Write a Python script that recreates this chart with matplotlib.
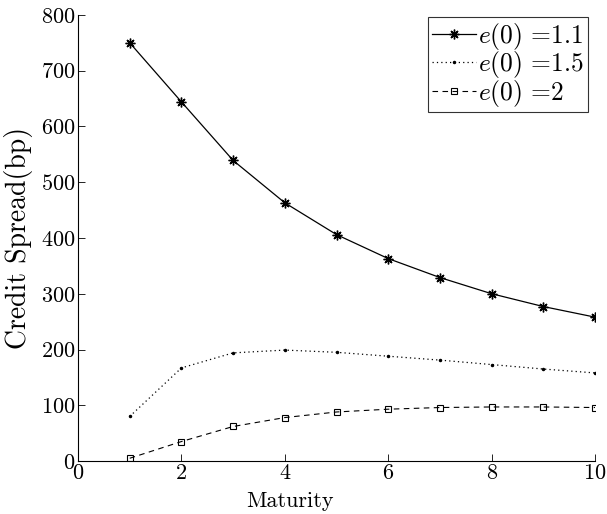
import matplotlib
matplotlib.use("Agg")
import matplotlib.pyplot as plt

# ── Data ────────────────────────────────────────────────────────────
maturity = [1, 2, 3, 4, 5, 6, 7, 8, 9, 10]
spread_e11 = [750, 644, 539, 463, 406, 363, 329, 300, 277, 258]
spread_e15 = [80, 167, 194, 199, 195, 188, 181, 173, 165, 158]
spread_e2 = [5, 35, 62, 78, 88, 93, 96, 97, 97, 96]

# ── Style (Computer Modern look) ────────────────────────────────────
plt.rcParams["font.family"] = "serif"
plt.rcParams["font.serif"] = ["cmr10"]
plt.rcParams["mathtext.fontset"] = "cm"
plt.rcParams["axes.formatter.use_mathtext"] = True
plt.rcParams["font.size"] = 16

fig = plt.figure(figsize=(6.07, 5.14), dpi=100)
ax = fig.add_axes([0.1285, 0.103, 0.852, 0.868])

ax.plot(maturity, spread_e11, "k-", marker=(8, 2, 0), ms=7, mew=1.0, lw=0.9,
        label=r"$e(0)$ =1.1")
ax.plot(maturity, spread_e15, "k", ls=(0, (1, 2.5)), marker=".", ms=3,
        lw=0.9, label=r"$e(0)$ =1.5")
ax.plot(maturity, spread_e2, "k", ls=(0, (5, 4)), marker="s", ms=5,
        mfc="none", mew=0.8, lw=0.8, label=r"$e(0)$ =2")

# ── Axes formatting ─────────────────────────────────────────────────
ax.set_xlim(0, 10)
ax.set_ylim(0, 800)
ax.set_xticks([0, 2, 4, 6, 8, 10])
ax.set_yticks(range(0, 801, 100))
ax.spines["top"].set_visible(False)
ax.spines["right"].set_visible(False)
ax.tick_params(direction="in", length=5, width=0.6, pad=2, labelsize=16)
ax.set_xlabel("Maturity", fontsize=16)
ax.xaxis.set_label_coords(0.41, -0.068)
ax.set_ylabel("Credit Spread(bp)", fontsize=20)
ax.yaxis.set_label_coords(-0.087, 0.5)

leg = ax.legend(loc="upper right", bbox_to_anchor=(0.9865, 0.9955),
                borderaxespad=0, fontsize=18.4, frameon=True, fancybox=False,
                edgecolor="black", handlelength=1.7, handletextpad=0.1,
                borderpad=0.15, labelspacing=-0.1)
leg.get_frame().set_linewidth(0.8)

plt.savefig("out.png", dpi=100)
